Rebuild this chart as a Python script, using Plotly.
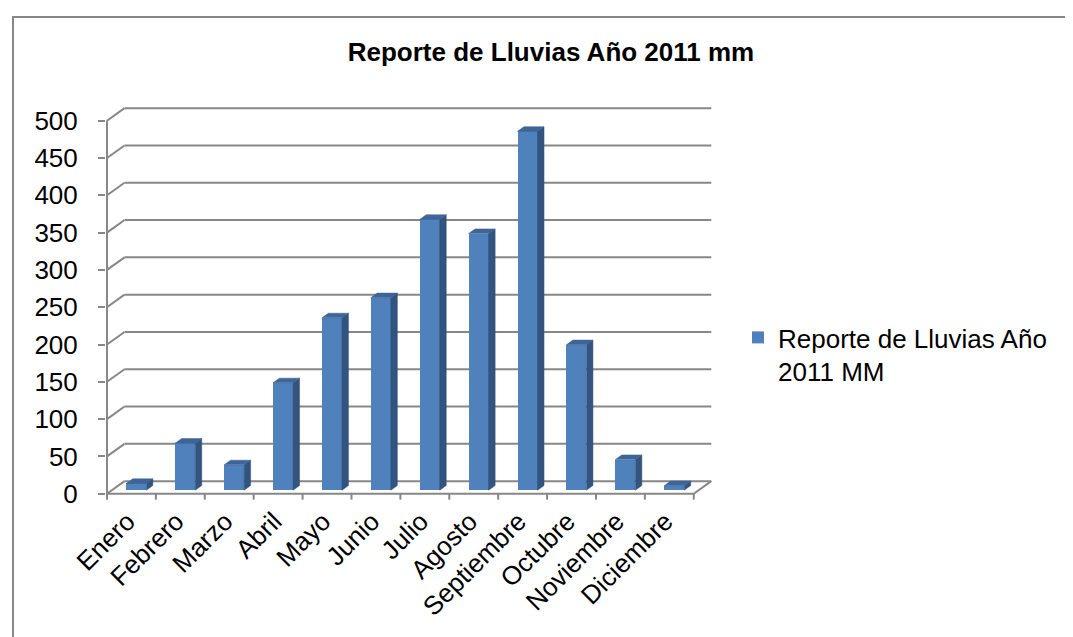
import plotly.graph_objects as go

# datos: lluvia mensual 2011 (mm)
meses = ["Enero", "Febrero", "Marzo", "Abril", "Mayo", "Junio", "Julio",
         "Agosto", "Septiembre", "Octubre", "Noviembre", "Diciembre"]
lluvia = [9, 63, 34, 144, 231, 258, 363, 344, 481, 195, 41, 6]
y_ticks = [0, 50, 100, 150, 200, 250, 300, 350, 400, 450, 500]

serie = "Reporte de Lluvias Año<br>2011 MM"
titulo = "<b>Reporte de Lluvias Año 2011 mm</b>"

# fake 3D: shift of the back wall in axis units
DX, DY = 0.358, 16.8
BAR_W = 0.41
D0, D1 = 0.28, 0.65  # depth of the columns (front, back)

GRID = "#878787"
FONT = "Arial, Liberation Sans, sans-serif"

n = len(meses)
x_lo, x_hi = -0.5, n - 0.5

fig = go.Figure()

# front faces
fig.add_trace(go.Bar(
    x=[i + D0 * DX for i in range(n)],
    y=lluvia,
    base=D0 * DY,
    width=BAR_W,
    name=serie,
    marker=dict(color="#4F81BD", line=dict(width=0)),
))

# side and top faces
b = D0 * DY
ddx, ddy = (D1 - D0) * DX, (D1 - D0) * DY
side_x, side_y, top_x, top_y = [], [], [], []
for i, v in enumerate(lluvia):
    xr = i + D0 * DX + BAR_W / 2
    xl = xr - BAR_W
    side_x += [xr, xr + ddx, xr + ddx, xr, xr, None]
    side_y += [b, b + ddy, b + ddy + v, b + v, b, None]
    top_x += [xl, xr, xr + ddx, xl + ddx, xl, None]
    top_y += [b + v, b + v, b + v + ddy, b + v + ddy, b + v, None]

fig.add_trace(go.Scatter(x=side_x, y=side_y, fill="toself", mode="lines",
                         line=dict(width=0.5, color="#2F4F78"),
                         fillcolor="#32547E", showlegend=False, hoverinfo="skip"))
fig.add_trace(go.Scatter(x=top_x, y=top_y, fill="toself", mode="lines",
                         line=dict(width=0.5, color="#3A6093"),
                         fillcolor="#3D6596", showlegend=False, hoverinfo="skip"))

# walls, grid and axis lines
shapes = []
def seg(x0, y0, x1, y1):
    shapes.append(dict(type="line", xref="x", yref="y", x0=x0, y0=y0, x1=x1, y1=y1,
                       layer="below", line=dict(color=GRID, width=2)))

for t in y_ticks:
    seg(x_lo + DX, t + DY, x_hi + DX, t + DY)
    seg(x_lo, t, x_lo + DX, t + DY)
seg(x_lo, 0, x_lo, y_ticks[-1])
seg(x_lo, 0, x_hi, 0)
seg(x_hi, 0, x_hi + DX, DY)
for k in range(n + 1):
    seg(k - 0.5, 0, k - 0.5, -8)

# chart area border (only top and left edges fall inside the picture)
shapes.append(dict(type="rect", xref="paper", yref="paper",
                   x0=(5 - 98) / 608, y0=(492 - 9) / 394,
                   x1=1.7, y1=-0.5, layer="below",
                   line=dict(color=GRID, width=2)))

fig.update_layout(
    width=1073, height=637,
    margin=dict(l=98, r=367, t=98, b=145),
    paper_bgcolor="white", plot_bgcolor="white",
    font=dict(family=FONT, size=26, color="black"),
    title=dict(text=titulo, x=(543 - 98) / 608, xref="paper", xanchor="center",
               y=1 - 44 / 637, yref="container", yanchor="middle",
               font=dict(size=26, family=FONT, color="black")),
    showlegend=True,
    legend=dict(x=(730 - 98) / 608, y=(492 - 306) / 394, xanchor="left", yanchor="top",
                valign="top", font=dict(size=26), bgcolor="rgba(0,0,0,0)"),
    shapes=shapes,
    bargap=0,
)

fig.update_xaxes(range=[-0.52, -0.52 + 608 / 48.9], tickmode="array",
                 tickvals=list(range(n)), ticktext=meses, tickangle=-45,
                 ticks="", ticklabelshift=-4,
                 showline=False, showgrid=False, zeroline=False)
fig.update_yaxes(range=[-8.45, -8.45 + 394 / 0.746], tickmode="array",
                 tickvals=y_ticks, ticks="outside", ticklen=7, tickwidth=2,
                 tickcolor=GRID, ticklabelstandoff=15,
                 showline=False, showgrid=False, zeroline=False)

fig.write_html("out.html")
